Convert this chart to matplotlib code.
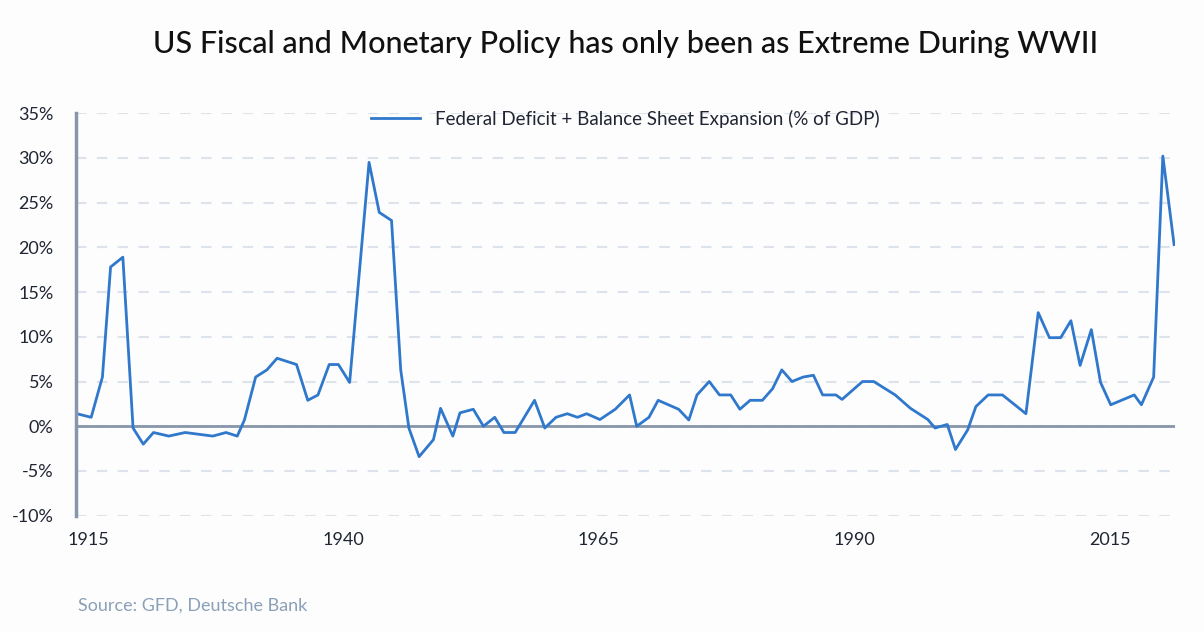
import matplotlib.pyplot as plt

years = [1913.9, 1915.3, 1916.4, 1917.2, 1918.4, 1919.4, 1920.4, 1921.4, 1922.9, 1924.5,
         1927.2, 1928.5, 1929.6, 1930.3, 1931.4, 1932.5, 1933.5, 1935.4, 1936.5, 1937.5,
         1938.6, 1939.5, 1940.6, 1942.5, 1943.5, 1944.7, 1945.6, 1946.4, 1947.4, 1948.8,
         1949.5, 1950.7, 1951.4, 1952.7, 1953.7, 1954.8, 1955.7, 1956.8, 1958.7, 1959.7,
         1960.8, 1961.9, 1962.9, 1963.8, 1965.1, 1966.6, 1968.0, 1968.7, 1969.9, 1970.8,
         1972.8, 1973.8, 1974.6, 1975.8, 1976.8, 1977.9, 1978.8, 1979.8, 1981.0, 1982.0,
         1982.9, 1983.9, 1985.0, 1986.0, 1986.9, 1988.2, 1988.8, 1990.8, 1991.9, 1994.0,
         1995.5, 1997.2, 1997.9, 1999.1, 1999.9, 2001.1, 2001.9, 2003.1, 2004.5, 2006.8,
         2008.0, 2009.1, 2010.2, 2011.2, 2012.1, 2013.2, 2014.1, 2015.1, 2017.4, 2018.1,
         2019.3, 2020.2, 2021.3]
values = [1.4, 1.0, 5.5, 17.8, 18.9, -0.2, -2.0, -0.7, -1.1, -0.7,
          -1.1, -0.7, -1.1, 0.7, 5.5, 6.3, 7.6, 6.9, 2.9, 3.5,
          6.9, 6.9, 4.9, 29.5, 23.9, 23.0, 6.3, -0.2, -3.4, -1.5,
          2.0, -1.1, 1.5, 1.9, 0.0, 1.0, -0.7, -0.7, 2.9, -0.2,
          1.0, 1.4, 1.0, 1.4, 0.75, 1.9, 3.5, 0.0, 1.0, 2.9,
          1.9, 0.7, 3.5, 5.0, 3.5, 3.5, 1.9, 2.9, 2.9, 4.2,
          6.3, 5.0, 5.5, 5.7, 3.5, 3.5, 3.0, 5.0, 5.0, 3.5,
          2.0, 0.75, -0.2, 0.2, -2.6, -0.4, 2.2, 3.5, 3.5, 1.4,
          12.7, 9.9, 9.9, 11.8, 6.8, 10.8, 4.9, 2.4, 3.5, 2.4,
          5.5, 30.2, 20.3]
tick_years = [1915, 1940, 1965, 1990, 2015]
y_ticks = [-10, -5, 0, 5, 10, 15, 20, 25, 30, 35]

plt.rcParams['font.family'] = ['Lato', 'DejaVu Sans']
axis_col = '#8796ab'
text_col = '#1f2533'

fig = plt.figure(figsize=(12.04, 6.32), dpi=100)
fig.patch.set_facecolor('#fdfdfd')
ax = fig.add_axes([0.063, 0.184, 0.913, 0.637])
ax.set_facecolor('#fdfdfd')

ax.plot(years, values, color='#2f78cc', linewidth=2,
        label='Federal Deficit + Balance Sheet Expansion (% of GDP)')
ax.axhline(0, color=axis_col, linewidth=2, zorder=1)

ax.set_xlim(1913.8, 2021.4)
ax.set_ylim(-10, 35)
ax.set_yticks(y_ticks)
ax.set_yticklabels([f'{v}%' for v in y_ticks])
ax.set_xticks(tick_years)
ax.yaxis.grid(True, color='#dde3ea', linestyle=(0, (5, 5)), linewidth=1.5)
ax.set_axisbelow(True)

for s in ['top', 'right', 'bottom']:
    ax.spines[s].set_visible(False)
ax.spines['left'].set_color(axis_col)
ax.spines['left'].set_linewidth(2.5)
ax.tick_params(axis='both', length=0, labelsize=13, colors=text_col)
ax.tick_params(axis='y', pad=16)
ax.tick_params(axis='x', pad=12)

fig.text(0.52, 0.93, 'US Fiscal and Monetary Policy has only been as Extreme During WWII',
         ha='center', va='center', fontsize=22, fontweight='medium', color='#111')
ax.legend(loc='upper center', bbox_to_anchor=(0.5, 1.05), frameon=False,
          fontsize=13.5, handlelength=2.6, labelcolor=text_col)
fig.text(0.065, 0.041, 'Source: GFD, Deutsche Bank', fontsize=13, color='#8aa0b8',
         va='center')

fig.savefig('out.png', dpi=100, facecolor=fig.get_facecolor())
